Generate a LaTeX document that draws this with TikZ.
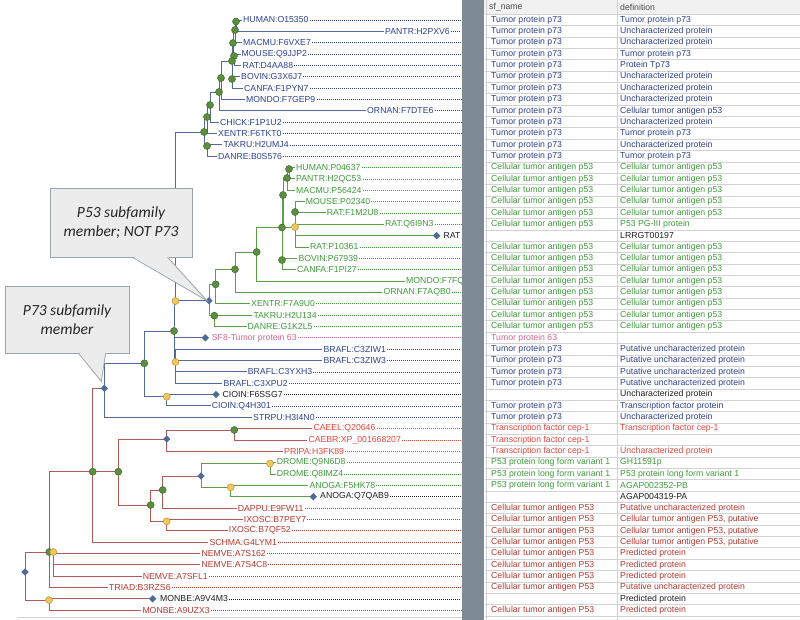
\documentclass[tikz,border=0pt]{standalone}
\usepackage{fontspec}
\setmainfont{Liberation Sans}
\newfontfamily\notefont{Carlito}
\usepackage{xcolor}
\usepackage{tikz}
\usetikzlibrary{shapes.geometric, backgrounds, calc}

\definecolor{tblue}{HTML}{2E428C}
\definecolor{lblue}{HTML}{52699A}
\definecolor{tgreen}{HTML}{3E9A3A}
\definecolor{lgreen}{HTML}{5E9E48}
\definecolor{tred}{HTML}{E2473C}
\definecolor{tdred}{HTML}{B5392F}
\definecolor{lred}{HTML}{B35A55}
\definecolor{tpink}{HTML}{D9648E}
\definecolor{tblack}{HTML}{1E1E1E}
\definecolor{mkgreen}{HTML}{5B8F3E}
\definecolor{mkgreenline}{HTML}{3D6A2A}
\definecolor{mkyellow}{HTML}{F2C75C}
\definecolor{mkyellowline}{HTML}{B89438}
\definecolor{mkblue}{HTML}{4C6B95}
\definecolor{callfill}{HTML}{ECECEC}
\definecolor{callline}{HTML}{9AA4AE}
\definecolor{calltext}{HTML}{262626}
\definecolor{sepgray}{HTML}{7E8A96}
\definecolor{rulegray}{HTML}{D2D2D2}
\definecolor{hdrgray}{HTML}{F1F1F1}

\newcommand{\leaffont}{\fontsize{8.7}{10}\selectfont}

\begin{document}
\begin{tikzpicture}[x=1pt, y=-1pt,
        gnode/.style={draw=mkgreenline, circle, fill=mkgreen, inner sep=0pt, minimum size=7pt, line width=0.5pt},
        ynode/.style={draw=mkyellowline, circle, fill=mkyellow, inner sep=0pt, minimum size=7pt, line width=0.5pt},
        dnode/.style={diamond, fill=mkblue, inner sep=0pt, minimum size=7.5pt},
        leaf/.style={anchor=west, inner sep=1pt, font=\leaffont},
        cell/.style={anchor=west, inner sep=0pt, font=\leaffont},
        bline/.style={draw=lblue, line width=0.9pt},
        gline/.style={draw=lgreen, line width=0.9pt},
        rline/.style={draw=lred, line width=0.9pt},
        leafdots/.style={line width=0.65pt, dash pattern=on 1pt off 1pt},
        callbox/.style={draw=callline, fill=callfill, line width=0.8pt, align=center, text=calltext, font=\notefont\itshape\fontsize{15.5}{18.5}\selectfont}]
        \useasboundingbox (0, 0) rectangle (800, 620);
        \coordinate (sep) at (461, 0);

        \node[leaf, tblue] at (242, 20.00) (L1) {HUMAN:O15350};
        \node[leaf, tblue] at (384, 31.35) (L2) {PANTR:H2PXV6};
        \node[leaf, tblue] at (242, 42.70) (L3) {MACMU:F6VXE7};
        \node[leaf, tblue] at (240.5, 54.05) (L4) {MOUSE:Q9JJP2};
        \node[leaf, tblue] at (241.3, 65.40) (L5) {RAT:D4AA88};
        \node[leaf, tblue] at (240, 76.75) (L6) {BOVIN:G3X6J7};
        \node[leaf, tblue] at (243, 88.10) (L7) {CANFA:F1PYN7};
        \node[leaf, tblue] at (245, 99.45) (L8) {MONDO:F7GEP9};
        \node[leaf, tblue] at (366, 110.80) (L9) {ORNAN:F7DTE6};
        \node[leaf, tblue] at (219, 122.15) (L10) {CHICK:F1P1U2};
        \node[leaf, tblue] at (217, 133.50) (L11) {XENTR:F6TKT0};
        \node[leaf, tblue] at (222.3, 144.85) (L12) {TAKRU:H2UMJ4};
        \node[leaf, tblue] at (217, 156.20) (L13) {DANRE:B0S576};
        \node[leaf, tgreen] at (295, 167.55) (L14) {HUMAN:P04637};
        \node[leaf, tgreen] at (295, 178.90) (L15) {PANTR:H2QC53};
        \node[leaf, tgreen] at (295, 190.25) (L16) {MACMU:P56424};
        \node[leaf, tgreen] at (304.7, 201.60) (L17) {MOUSE:P02340};
        \node[leaf, tgreen] at (325.7, 212.95) (L18) {RAT:F1M2U8};
        \node[leaf, tgreen] at (384, 224.30) (L19) {RAT:Q6I9N3};
        \node[leaf, tblack] at (442.5, 235.65) (L20) {RAT};
        \node[leaf, tgreen] at (309, 247.00) (L21) {RAT:P10361};
        \node[leaf, tgreen] at (297.3, 258.35) (L22) {BOVIN:P67939};
        \node[leaf, tgreen] at (296, 269.70) (L23) {CANFA:F1PI27};
        \node[leaf, tgreen] at (405, 281.05) (L24) {MONDO:F7FQ};
        \node[leaf, tgreen] at (382.3, 292.40) (L25) {ORNAN:F7AQB0};
        \node[leaf, tgreen] at (250, 303.75) (L26) {XENTR:F7A9U0};
        \node[leaf, tgreen] at (252.3, 315.10) (L27) {TAKRU:H2U134};
        \node[leaf, tgreen] at (246.5, 326.45) (L28) {DANRE:G1K2L5};
        \node[leaf, tpink] at (210.7, 337.80) (L29) {SF8-Tumor protein 63};
        \node[leaf, tblue] at (322.3, 349.15) (L30) {BRAFL:C3ZIW1};
        \node[leaf, tblue] at (322.3, 360.50) (L31) {BRAFL:C3ZIW3};
        \node[leaf, tblue] at (246.7, 371.85) (L32) {BRAFL:C3YXH3};
        \node[leaf, tblue] at (222.3, 383.20) (L33) {BRAFL:C3XPU2};
        \node[leaf, tblack] at (221.5, 394.55) (L34) {CIOIN:F6SSG7};
        \node[leaf, tblue] at (210.7, 405.90) (L35) {CIOIN:Q4H301};
        \node[leaf, tblue] at (252, 417.25) (L36) {STRPU:H3I4N0};
        \node[leaf, tred] at (312.3, 428.60) (L37) {CAEEL:Q20646};
        \node[leaf, tred] at (307.3, 439.95) (L38) {CAEBR:XP\_001668207};
        \node[leaf, tred] at (283, 451.30) (L39) {PRIPA:H3FK89};
        \node[leaf, tgreen] at (275.7, 462.65) (L40) {DROME:Q9N6D8};
        \node[leaf, tgreen] at (275.7, 474.00) (L41) {DROME:Q8IMZ4};
        \node[leaf, tgreen] at (308.3, 485.35) (L42) {ANOGA:F5HK78};
        \node[leaf, tblack] at (319, 496.70) (L43) {ANOGA:Q7QAB9};
        \node[leaf, tdred] at (236.7, 508.05) (L44) {DAPPU:E9FW11};
        \node[leaf, tdred] at (242.7, 519.40) (L45) {IXOSC:B7PEY7};
        \node[leaf, tdred] at (227.7, 530.75) (L46) {IXOSC:B7QF52};
        \node[leaf, tdred] at (208.3, 542.10) (L47) {SCHMA:G4LYM1};
        \node[leaf, tdred] at (200.3, 553.45) (L48) {NEMVE:A7S162};
        \node[leaf, tdred] at (200.3, 564.80) (L49) {NEMVE:A7S4C8};
        \node[leaf, tdred] at (141.7, 576.15) (L50) {NEMVE:A7SFL1};
        \node[leaf, tdred] at (108, 587.50) (L51) {TRIAD:B3RZS6};
        \node[leaf, tblack] at (159, 598.85) (L52) {MONBE:A9V4M3};
        \node[leaf, tdred] at (141.3, 610.20) (L53) {MONBE:A9UZX3};

        \node[gnode] at (236, 21.5) (bA) {};
        \node[gnode] at (235, 30) (bB) {};
        \node[gnode] at (233, 43) (bC) {};
        \node[gnode] at (234, 56) (bD) {};
        \node[gnode] at (232, 61) (bE) {};
        \node[gnode] at (232, 79) (bF) {};
        \node[gnode] at (221, 78) (bG) {};
        \node[gnode] at (219, 92) (bH) {};
        \node[gnode] at (210, 105) (bI) {};
        \node[gnode] at (207, 117) (bJ) {};
        \node[gnode] at (204, 132) (bK) {};
        \node[gnode] at (207, 146) (bL) {};
        \node[gnode] at (289, 169) (gA) {};
        \node[gnode] at (287, 178) (gB) {};
        \node[gnode] at (283, 195) (gC) {};
        \node[gnode] at (295, 212) (gD) {};
        \node[ynode] at (295, 227) (gE) {};
        \node[gnode] at (282, 227.5) (gF) {};
        \node[gnode] at (282, 260) (gG) {};
        \node[gnode] at (256.7, 252) (gH) {};
        \node[gnode] at (235, 269.3) (gI) {};
        \node[gnode] at (215.7, 284.3) (gJ) {};
        \node[gnode] at (214.3, 315.7) (gK) {};
        \node[dnode] at (209, 300.7) (D2) {};
        \node[dnode] at (436.7, 235.65) (dR) {};
        \node[ynode] at (175.5, 301) (Y2) {};
        \node[gnode] at (174, 331) (G2) {};
        \node[dnode] at (205.3, 337.8) (dS) {};
        \node[ynode] at (175.5, 362) (Y3) {};
        \node[ynode] at (166.7, 396.7) (cY) {};
        \node[dnode] at (216, 394.55) (dC) {};
        \node[gnode] at (144.3, 363.3) (G1) {};
        \node[dnode] at (104.3, 388.3) (D1) {};
        \node[gnode] at (234.3, 430) (gN) {};
        \node[dnode] at (166.7, 439) (dN) {};
        \node[ynode] at (270, 463.5) (yD) {};
        \node[ynode] at (230.7, 487.3) (yA) {};
        \node[dnode] at (313.3, 496.7) (dA) {};
        \node[dnode] at (201, 476) (dI) {};
        \node[gnode] at (162.7, 490) (gS) {};
        \node[ynode] at (166.7, 521.3) (yI) {};
        \node[gnode] at (150.7, 505) (gQ) {};
        \node[gnode] at (118.3, 471.7) (gP) {};
        \node[gnode] at (92.7, 471.7) (gR) {};
        \node[gnode] at (49.3, 552) (gM) {};
        \node[ynode] at (53.3, 552) (yN) {};
        \node[ynode] at (49, 600) (yM) {};
        \node[dnode] at (152.7, 598.85) (dM) {};
        \node[dnode] at (25, 572) (root) {};

        \begin{scope}[on background layer]
        \draw[bline] (bA.center) |- (L1.west);
        \draw[bline] (bA.center) |- (L2.west);
        \draw[bline] (bB.center) |- (bA.center);
        \draw[bline] (bB.center) |- (L3.west);
        \draw[bline] (bC.center) |- (bB.center);
        \draw[bline] (bC.center) |- (bD.center);
        \draw[bline] (bD.center) |- (L4.west);
        \draw[bline] (bD.center) |- (L5.west);
        \draw[bline] (bE.center) |- (bC.center);
        \draw[bline] (bE.center) |- (bF.center);
        \draw[bline] (bF.center) |- (L6.west);
        \draw[bline] (bF.center) |- (L7.west);
        \draw[bline] (bG.center) |- (bE.center);
        \draw[bline] (bG.center) |- (L8.west);
        \draw[bline] (bH.center) |- (bG.center);
        \draw[bline] (bH.center) |- (L9.west);
        \draw[bline] (bI.center) |- (bH.center);
        \draw[bline] (bI.center) |- (L10.west);
        \draw[bline] (bJ.center) |- (bI.center);
        \draw[bline] (bJ.center) |- (L11.west);
        \draw[bline] (bK.center) |- (bJ.center);
        \draw[bline] (bK.center) |- (bL.center);
        \draw[bline] (bL.center) |- (L12.west);
        \draw[bline] (bL.center) |- (L13.west);
        \draw[gline] (gA.center) |- (L14.west);
        \draw[gline] (gA.center) |- (L15.west);
        \draw[gline] (gB.center) |- (gA.center);
        \draw[gline] (gB.center) |- (L16.west);
        \draw[gline] (gC.center) |- (gB.center);
        \draw[gline] (gC.center) |- (gE.center);
        \draw[gline] (gD.center) |- (L17.west);
        \draw[gline] (gD.center) |- (L18.west);
        \draw[gline] (gE.center) |- (gD.center);
        \draw[gline] (gE.center) |- (L19.west);
        \draw[gline] (gE.center) |- (dR.center);
        \draw[gline] (gE.center) |- (L21.west);
        \draw[gline] (gF.center) |- (gC.center);
        \draw[gline] (gF.center) |- (gG.center);
        \draw[gline] (gG.center) |- (L22.west);
        \draw[gline] (gG.center) |- (L23.west);
        \draw[gline] (gH.center) |- (gF.center);
        \draw[gline] (gH.center) |- (L24.west);
        \draw[gline] (gI.center) |- (gH.center);
        \draw[gline] (gI.center) |- (L25.west);
        \draw[gline] (gJ.center) |- (gI.center);
        \draw[gline] (gJ.center) |- (L26.west);
        \draw[gline] (gK.center) |- (L27.west);
        \draw[gline] (gK.center) |- (L28.west);
        \draw[gline] (D2.center) |- (gJ.center);
        \draw[gline] (D2.center) |- (gK.center);
        \draw[bline] (Y2.center) |- (bK.center);
        \draw[bline] (Y2.center) |- (D2.center);
        \draw[bline] (G2.center) |- (Y2.center);
        \draw[bline] (G2.center) |- (dS.center);
        \draw[bline] (G2.center) |- (Y3.center);
        \draw[bline] (Y3.center) |- (L30.west);
        \draw[bline] (Y3.center) |- (L31.west);
        \draw[bline] (Y3.center) |- (L32.west);
        \draw[bline] (Y3.center) |- (L33.west);
        \draw[bline] (cY.center) |- (dC.center);
        \draw[bline] (cY.center) |- (L35.west);
        \draw[bline] (G1.center) |- (G2.center);
        \draw[bline] (G1.center) |- (cY.center);
        \draw[bline] (D1.center) |- (G1.center);
        \draw[bline] (D1.center) |- (L36.west);
        \draw[rline] (gN.center) |- (L37.west);
        \draw[rline] (gN.center) |- (L38.west);
        \draw[rline] (dN.center) |- (gN.center);
        \draw[rline] (dN.center) |- (L39.west);
        \draw[gline] (yD.center) |- (L40.west);
        \draw[gline] (yD.center) |- (L41.west);
        \draw[gline] (yA.center) |- (L42.west);
        \draw[gline] (yA.center) |- (dA.center);
        \draw[gline] (dI.center) |- (yD.center);
        \draw[gline] (dI.center) |- (yA.center);
        \draw[rline] (gS.center) |- (dI.center);
        \draw[rline] (gS.center) |- (L44.west);
        \draw[rline] (yI.center) |- (L45.west);
        \draw[rline] (yI.center) |- (L46.west);
        \draw[rline] (gQ.center) |- (gS.center);
        \draw[rline] (gQ.center) |- (yI.center);
        \draw[rline] (gP.center) |- (dN.center);
        \draw[rline] (gP.center) |- (gQ.center);
        \draw[rline] (gR.center) |- (D1.center);
        \draw[rline] (gR.center) |- (gP.center);
        \draw[rline] (gR.center) |- (L47.west);
        \draw[rline] (yN.center) |- (L48.west);
        \draw[rline] (yN.center) |- (L49.west);
        \draw[rline] (yN.center) |- (L50.west);
        \draw[rline] (gM.center) |- (gR.center);
        \draw[rline] (gM.center) |- (yN.center);
        \draw[rline] (gM.center) |- (L51.west);
        \draw[rline] (yM.center) |- (dM.center);
        \draw[rline] (yM.center) |- (L53.west);
        \draw[rline] (root.center) |- (gM.center);
        \draw[rline] (root.center) |- (yM.center);

        \draw[leafdots, tblue] (L1.east) -- (L1.east -| sep);
        \draw[leafdots, tblue] (L2.east) -- (L2.east -| sep);
        \draw[leafdots, tblue] (L3.east) -- (L3.east -| sep);
        \draw[leafdots, tblue] (L4.east) -- (L4.east -| sep);
        \draw[leafdots, tblue] (L5.east) -- (L5.east -| sep);
        \draw[leafdots, tblue] (L6.east) -- (L6.east -| sep);
        \draw[leafdots, tblue] (L7.east) -- (L7.east -| sep);
        \draw[leafdots, tblue] (L8.east) -- (L8.east -| sep);
        \draw[leafdots, tblue] (L9.east) -- (L9.east -| sep);
        \draw[leafdots, tblue] (L10.east) -- (L10.east -| sep);
        \draw[leafdots, tblue] (L11.east) -- (L11.east -| sep);
        \draw[leafdots, tblue] (L12.east) -- (L12.east -| sep);
        \draw[leafdots, tblue] (L13.east) -- (L13.east -| sep);
        \draw[leafdots, tgreen] (L14.east) -- (L14.east -| sep);
        \draw[leafdots, tgreen] (L15.east) -- (L15.east -| sep);
        \draw[leafdots, tgreen] (L16.east) -- (L16.east -| sep);
        \draw[leafdots, tgreen] (L17.east) -- (L17.east -| sep);
        \draw[leafdots, tgreen] (L18.east) -- (L18.east -| sep);
        \draw[leafdots, tgreen] (L19.east) -- (L19.east -| sep);
        \draw[leafdots, tgreen] (L21.east) -- (L21.east -| sep);
        \draw[leafdots, tgreen] (L22.east) -- (L22.east -| sep);
        \draw[leafdots, tgreen] (L23.east) -- (L23.east -| sep);
        \draw[leafdots, tgreen] (L25.east) -- (L25.east -| sep);
        \draw[leafdots, tgreen] (L26.east) -- (L26.east -| sep);
        \draw[leafdots, tgreen] (L27.east) -- (L27.east -| sep);
        \draw[leafdots, tgreen] (L28.east) -- (L28.east -| sep);
        \draw[leafdots, tpink] (L29.east) -- (L29.east -| sep);
        \draw[leafdots, tblue] (L30.east) -- (L30.east -| sep);
        \draw[leafdots, tblue] (L31.east) -- (L31.east -| sep);
        \draw[leafdots, tblue] (L32.east) -- (L32.east -| sep);
        \draw[leafdots, tblue] (L33.east) -- (L33.east -| sep);
        \draw[leafdots, tblack] (L34.east) -- (L34.east -| sep);
        \draw[leafdots, tblue] (L35.east) -- (L35.east -| sep);
        \draw[leafdots, tblue] (L36.east) -- (L36.east -| sep);
        \draw[leafdots, tred] (L37.east) -- (L37.east -| sep);
        \draw[leafdots, tred] (L38.east) -- (L38.east -| sep);
        \draw[leafdots, tred] (L39.east) -- (L39.east -| sep);
        \draw[leafdots, tgreen] (L40.east) -- (L40.east -| sep);
        \draw[leafdots, tgreen] (L41.east) -- (L41.east -| sep);
        \draw[leafdots, tgreen] (L42.east) -- (L42.east -| sep);
        \draw[leafdots, tblack] (L43.east) -- (L43.east -| sep);
        \draw[leafdots, tdred] (L44.east) -- (L44.east -| sep);
        \draw[leafdots, tdred] (L45.east) -- (L45.east -| sep);
        \draw[leafdots, tdred] (L46.east) -- (L46.east -| sep);
        \draw[leafdots, tdred] (L47.east) -- (L47.east -| sep);
        \draw[leafdots, tdred] (L48.east) -- (L48.east -| sep);
        \draw[leafdots, tdred] (L49.east) -- (L49.east -| sep);
        \draw[leafdots, tdred] (L50.east) -- (L50.east -| sep);
        \draw[leafdots, tdred] (L51.east) -- (L51.east -| sep);
        \draw[leafdots, tblack] (L52.east) -- (L52.east -| sep);
        \draw[leafdots, tdred] (L53.east) -- (L53.east -| sep);
        \end{scope}

        \draw[rulegray, line width=1.2pt] (17, 617.5) -- (462, 617.5);
        \fill[sepgray] (462, 0) rectangle (484, 620);
        \fill[hdrgray] (484, 0) rectangle (800, 14.3);
        \foreach \k in {0,...,53}
            \draw[rulegray, line width=0.6pt] (485, {14.3+\k*11.35}) -- (800, {14.3+\k*11.35});
        \draw[rulegray, line width=0.6pt] (617.7, 0) -- (617.7, 620);
        \draw[rulegray, line width=0.6pt] (486, 0) -- (486, 620);
        \node[cell, text=tblack!80] at (489, 7) (hs) {sf\_name};
        \node[cell, text=tblack!80] at (620, 7) (hd) {definition};

        \node[cell, tblue] at (491, 20.00) (s1) {Tumor protein p73}; \node[cell, tblue] at (620, 20.00) (d1) {Tumor protein p73};
        \node[cell, tblue] at (491, 31.35) (s2) {Tumor protein p73}; \node[cell, tblue] at (620, 31.35) (d2) {Uncharacterized protein};
        \node[cell, tblue] at (491, 42.70) (s3) {Tumor protein p73}; \node[cell, tblue] at (620, 42.70) (d3) {Uncharacterized protein};
        \node[cell, tblue] at (491, 54.05) (s4) {Tumor protein p73}; \node[cell, tblue] at (620, 54.05) (d4) {Tumor protein p73};
        \node[cell, tblue] at (491, 65.40) (s5) {Tumor protein p73}; \node[cell, tblue] at (620, 65.40) (d5) {Protein Tp73};
        \node[cell, tblue] at (491, 76.75) (s6) {Tumor protein p73}; \node[cell, tblue] at (620, 76.75) (d6) {Uncharacterized protein};
        \node[cell, tblue] at (491, 88.10) (s7) {Tumor protein p73}; \node[cell, tblue] at (620, 88.10) (d7) {Uncharacterized protein};
        \node[cell, tblue] at (491, 99.45) (s8) {Tumor protein p73}; \node[cell, tblue] at (620, 99.45) (d8) {Uncharacterized protein};
        \node[cell, tblue] at (491, 110.80) (s9) {Tumor protein p73}; \node[cell, tblue] at (620, 110.80) (d9) {Cellular tumor antigen p53};
        \node[cell, tblue] at (491, 122.15) (s10) {Tumor protein p73}; \node[cell, tblue] at (620, 122.15) (d10) {Uncharacterized protein};
        \node[cell, tblue] at (491, 133.50) (s11) {Tumor protein p73}; \node[cell, tblue] at (620, 133.50) (d11) {Tumor protein p73};
        \node[cell, tblue] at (491, 144.85) (s12) {Tumor protein p73}; \node[cell, tblue] at (620, 144.85) (d12) {Uncharacterized protein};
        \node[cell, tblue] at (491, 156.20) (s13) {Tumor protein p73}; \node[cell, tblue] at (620, 156.20) (d13) {Tumor protein p73};
        \node[cell, tgreen] at (491, 167.55) (s14) {Cellular tumor antigen p53}; \node[cell, tgreen] at (620, 167.55) (d14) {Cellular tumor antigen p53};
        \node[cell, tgreen] at (491, 178.90) (s15) {Cellular tumor antigen p53}; \node[cell, tgreen] at (620, 178.90) (d15) {Cellular tumor antigen p53};
        \node[cell, tgreen] at (491, 190.25) (s16) {Cellular tumor antigen p53}; \node[cell, tgreen] at (620, 190.25) (d16) {Cellular tumor antigen p53};
        \node[cell, tgreen] at (491, 201.60) (s17) {Cellular tumor antigen p53}; \node[cell, tgreen] at (620, 201.60) (d17) {Cellular tumor antigen p53};
        \node[cell, tgreen] at (491, 212.95) (s18) {Cellular tumor antigen p53}; \node[cell, tgreen] at (620, 212.95) (d18) {Cellular tumor antigen p53};
        \node[cell, tgreen] at (491, 224.30) (s19) {Cellular tumor antigen p53}; \node[cell, tgreen] at (620, 224.30) (d19) {P53 PG-III protein};
        \node[cell, tblack] at (620, 235.65) (d20) {LRRGT00197};
        \node[cell, tgreen] at (491, 247.00) (s21) {Cellular tumor antigen p53}; \node[cell, tgreen] at (620, 247.00) (d21) {Cellular tumor antigen p53};
        \node[cell, tgreen] at (491, 258.35) (s22) {Cellular tumor antigen p53}; \node[cell, tgreen] at (620, 258.35) (d22) {Cellular tumor antigen p53};
        \node[cell, tgreen] at (491, 269.70) (s23) {Cellular tumor antigen p53}; \node[cell, tgreen] at (620, 269.70) (d23) {Cellular tumor antigen p53};
        \node[cell, tgreen] at (491, 281.05) (s24) {Cellular tumor antigen p53}; \node[cell, tgreen] at (620, 281.05) (d24) {Cellular tumor antigen p53};
        \node[cell, tgreen] at (491, 292.40) (s25) {Cellular tumor antigen p53}; \node[cell, tgreen] at (620, 292.40) (d25) {Cellular tumor antigen p53};
        \node[cell, tgreen] at (491, 303.75) (s26) {Cellular tumor antigen p53}; \node[cell, tgreen] at (620, 303.75) (d26) {Cellular tumor antigen p53};
        \node[cell, tgreen] at (491, 315.10) (s27) {Cellular tumor antigen p53}; \node[cell, tgreen] at (620, 315.10) (d27) {Cellular tumor antigen p53};
        \node[cell, tgreen] at (491, 326.45) (s28) {Cellular tumor antigen p53}; \node[cell, tgreen] at (620, 326.45) (d28) {Cellular tumor antigen p53};
        \node[cell, tpink] at (491, 337.80) (s29) {Tumor protein 63};
        \node[cell, tblue] at (491, 349.15) (s30) {Tumor protein p73}; \node[cell, tblue] at (620, 349.15) (d30) {Putative uncharacterized protein};
        \node[cell, tblue] at (491, 360.50) (s31) {Tumor protein p73}; \node[cell, tblue] at (620, 360.50) (d31) {Putative uncharacterized protein};
        \node[cell, tblue] at (491, 371.85) (s32) {Tumor protein p73}; \node[cell, tblue] at (620, 371.85) (d32) {Putative uncharacterized protein};
        \node[cell, tblue] at (491, 383.20) (s33) {Tumor protein p73}; \node[cell, tblue] at (620, 383.20) (d33) {Putative uncharacterized protein};
        \node[cell, tblack] at (620, 394.55) (d34) {Uncharacterized protein};
        \node[cell, tblue] at (491, 405.90) (s35) {Tumor protein p73}; \node[cell, tblue] at (620, 405.90) (d35) {Transcription factor protein};
        \node[cell, tblue] at (491, 417.25) (s36) {Tumor protein p73}; \node[cell, tblue] at (620, 417.25) (d36) {Uncharacterized protein};
        \node[cell, tred] at (491, 428.60) (s37) {Transcription factor cep-1}; \node[cell, tred] at (620, 428.60) (d37) {Transcription factor cep-1};
        \node[cell, tred] at (491, 439.95) (s38) {Transcription factor cep-1};
        \node[cell, tred] at (491, 451.30) (s39) {Transcription factor cep-1}; \node[cell, tred] at (620, 451.30) (d39) {Uncharacterized protein};
        \node[cell, tgreen] at (491, 462.65) (s40) {P53 protein long form variant 1}; \node[cell, tgreen] at (620, 462.65) (d40) {GH11591p};
        \node[cell, tgreen] at (491, 474.00) (s41) {P53 protein long form variant 1}; \node[cell, tgreen] at (620, 474.00) (d41) {P53 protein long form variant 1};
        \node[cell, tgreen] at (491, 485.35) (s42) {P53 protein long form variant 1}; \node[cell, tgreen] at (620, 485.35) (d42) {AGAP002352-PB};
        \node[cell, tblack] at (620, 496.70) (d43) {AGAP004319-PA};
        \node[cell, tdred] at (491, 508.05) (s44) {Cellular tumor antigen P53}; \node[cell, tdred] at (620, 508.05) (d44) {Putative uncharacterized protein};
        \node[cell, tdred] at (491, 519.40) (s45) {Cellular tumor antigen P53}; \node[cell, tdred] at (620, 519.40) (d45) {Cellular tumor antigen P53, putative};
        \node[cell, tdred] at (491, 530.75) (s46) {Cellular tumor antigen P53}; \node[cell, tdred] at (620, 530.75) (d46) {Cellular tumor antigen P53, putative};
        \node[cell, tdred] at (491, 542.10) (s47) {Cellular tumor antigen P53}; \node[cell, tdred] at (620, 542.10) (d47) {Cellular tumor antigen P53, putative};
        \node[cell, tdred] at (491, 553.45) (s48) {Cellular tumor antigen P53}; \node[cell, tdred] at (620, 553.45) (d48) {Predicted protein};
        \node[cell, tdred] at (491, 564.80) (s49) {Cellular tumor antigen P53}; \node[cell, tdred] at (620, 564.80) (d49) {Predicted protein};
        \node[cell, tdred] at (491, 576.15) (s50) {Cellular tumor antigen P53}; \node[cell, tdred] at (620, 576.15) (d50) {Predicted protein};
        \node[cell, tdred] at (491, 587.50) (s51) {Cellular tumor antigen P53}; \node[cell, tdred] at (620, 587.50) (d51) {Putative uncharacterized protein};
        \node[cell, tblack] at (620, 598.85) (d52) {Predicted protein};
        \node[cell, tdred] at (491, 610.20) (s53) {Cellular tumor antigen P53}; \node[cell, tdred] at (620, 610.20) (d53) {Predicted protein};

        \node[callbox, minimum width=142pt, minimum height=69pt] at (121, 222.5) (c53) {P53 subfamily\\member; NOT P73};
        \fill[callfill] ($(c53.south west)+(83, -1.2)$) -- ($(D2)+(-2, 0)$) -- ($(c53.south west)+(118, -1.2)$) -- cycle;
        \draw[callline, line width=0.8pt] ($(c53.south west)+(83, 0)$) -- ($(D2)+(-2, 0)$) -- ($(c53.south west)+(118, 0)$);
        \node[callbox, minimum width=124pt, minimum height=67pt] at (67, 319.5) (c73) {P73 subfamily\\member};
        \fill[callfill] ($(c73.south west)+(74, -1.2)$) -- ($(D1)+(-3, -7)$) -- ($(c73.south west)+(101, -1.2)$) -- cycle;
        \draw[callline, line width=0.8pt] ($(c73.south west)+(74, 0)$) -- ($(D1)+(-3, -7)$) -- ($(c73.south west)+(101, 0)$);
\end{tikzpicture}
\end{document}
